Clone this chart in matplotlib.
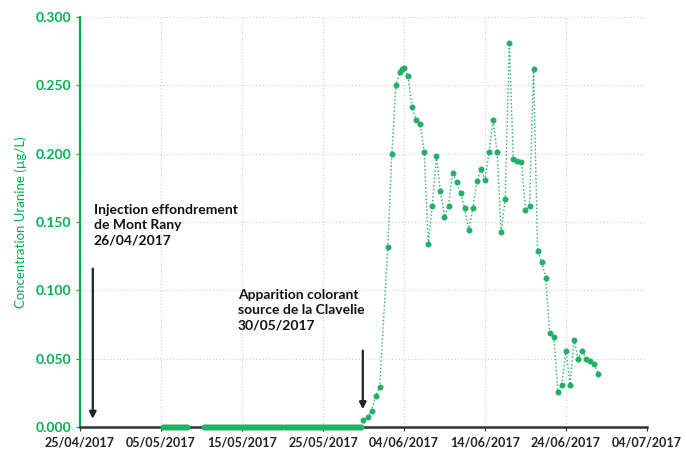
import numpy as np
import pandas as pd
import matplotlib
matplotlib.use("Agg")
import matplotlib.pyplot as plt
import matplotlib.dates as mdates

# Données (jours depuis le 25/04/2017)
date_origine = pd.Timestamp("2017-04-25")

# périodes à concentration nulle
periodes_nulles = [(10.25, 13.25), (15.25, 34.75)]

jours = [35.0, 35.5, 36.0, 36.5, 37.0, 38.0, 38.5, 39.0, 39.5, 39.75,
         40.0, 40.5, 41.0, 41.5, 42.0, 42.5, 43.0, 43.5, 44.0, 44.5,
         45.0, 45.5, 46.0, 46.5, 47.0, 47.5, 48.0, 48.5, 49.0, 49.5,
         50.0, 50.5, 51.0, 51.5, 52.0, 52.5, 53.0, 53.5, 54.0, 54.5,
         55.0, 55.5, 56.0, 56.5, 57.0, 57.5, 58.0, 58.5, 59.0, 59.5,
         60.0, 60.5, 61.0, 61.5, 62.0, 62.5, 63.0, 63.5, 64.0]
concentration = [0.005, 0.0075, 0.012, 0.023, 0.029, 0.132, 0.200, 0.250, 0.260, 0.262,
                 0.2625, 0.257, 0.234, 0.225, 0.222, 0.201, 0.134, 0.162, 0.198, 0.173,
                 0.154, 0.162, 0.186, 0.179, 0.171, 0.160, 0.144, 0.160, 0.180, 0.189,
                 0.181, 0.201, 0.225, 0.201, 0.143, 0.167, 0.281, 0.196, 0.195, 0.194,
                 0.159, 0.162, 0.262, 0.129, 0.121, 0.109, 0.0686, 0.066, 0.026, 0.031,
                 0.056, 0.031, 0.064, 0.050, 0.056, 0.0495, 0.048, 0.046, 0.039]

yticks = [0.0, 0.05, 0.10, 0.15, 0.20, 0.25, 0.30]
xticks = ["2017-04-25", "2017-05-05", "2017-05-15", "2017-05-25",
          "2017-06-04", "2017-06-14", "2017-06-24", "2017-07-04"]

vert = "#00b050"
vert_points = "#22b066"


def en_dates(liste_jours):
    return [date_origine + pd.Timedelta(days=float(d)) for d in liste_jours]


plt.rcParams['font.family'] = ['Lato', 'DejaVu Sans']

fig = plt.figure(figsize=(6.86, 4.5), dpi=100)
ax = fig.add_axes([0.1166, 0.051, 0.8265, 0.911])

style = dict(linestyle=':', linewidth=1, color=vert_points, marker='o', markersize=3.3,
             markerfacecolor=vert_points, markeredgecolor=vert_points, zorder=3, clip_on=False)

# première période nulle
j0 = np.arange(periodes_nulles[0][0], periodes_nulles[0][1] + 0.01, 0.25)
ax.plot(en_dates(j0), [0.0] * len(j0), **style)

# deuxième période nulle puis restitution
j1 = list(np.arange(periodes_nulles[1][0], periodes_nulles[1][1] + 0.01, 0.25))
ax.plot(en_dates(j1 + jours), [0.0] * len(j1) + concentration, **style)

ax.set_xlim(pd.Timestamp(xticks[0]), pd.Timestamp(xticks[-1]))
ax.set_ylim(0, 0.3)
ax.set_xticks([pd.Timestamp(t) for t in xticks])
ax.xaxis.set_major_formatter(mdates.DateFormatter("%d/%m/%Y"))
ax.set_yticks(yticks)
ax.set_yticklabels([f"{v:.3f}" for v in yticks])

ax.grid(True, linestyle=':', color='#d4d4d4', linewidth=0.9)
ax.set_axisbelow(True)

for s in ['top', 'right']:
    ax.spines[s].set_visible(False)
ax.spines['left'].set_color(vert)
ax.spines['left'].set_linewidth(1.6)
ax.spines['bottom'].set_color('#333333')
ax.spines['bottom'].set_linewidth(1.8)

ax.tick_params(axis='y', colors=vert, labelcolor=vert, labelsize=10, length=3, direction='out')
ax.tick_params(axis='x', colors='#333333', labelcolor='#222222', labelsize=9, length=3, direction='out')
for lab in ax.get_xticklabels() + ax.get_yticklabels():
    lab.set_fontweight('bold')

ax.set_ylabel("Concentration Uranine (µg/L)", color=vert, fontsize=9.5, labelpad=6)

# annotations
ax.text(date_origine + pd.Timedelta(days=1.7), 0.163,
        "Injection effondrement\nde Mont Rany\n26/04/2017",
        fontsize=10, fontweight='bold', color='#111111', va='top', ha='left', linespacing=1.3)
ax.annotate("", xy=(pd.Timestamp("2017-04-26 14:00"), 0.004),
            xytext=(pd.Timestamp("2017-04-26 14:00"), 0.118),
            arrowprops=dict(arrowstyle='-|>', color='#222222', lw=1.6, mutation_scale=10))

ax.text(pd.Timestamp("2017-05-14 12:00"), 0.101,
        "Apparition colorant\nsource de la Clavelie\n30/05/2017",
        fontsize=10, fontweight='bold', color='#111111', va='top', ha='left', linespacing=1.3)
ax.annotate("", xy=(pd.Timestamp("2017-05-29 22:00"), 0.011),
            xytext=(pd.Timestamp("2017-05-29 22:00"), 0.058),
            arrowprops=dict(arrowstyle='-|>', color='#222222', lw=1.6, mutation_scale=10))

fig.savefig("out.png", dpi=100)
